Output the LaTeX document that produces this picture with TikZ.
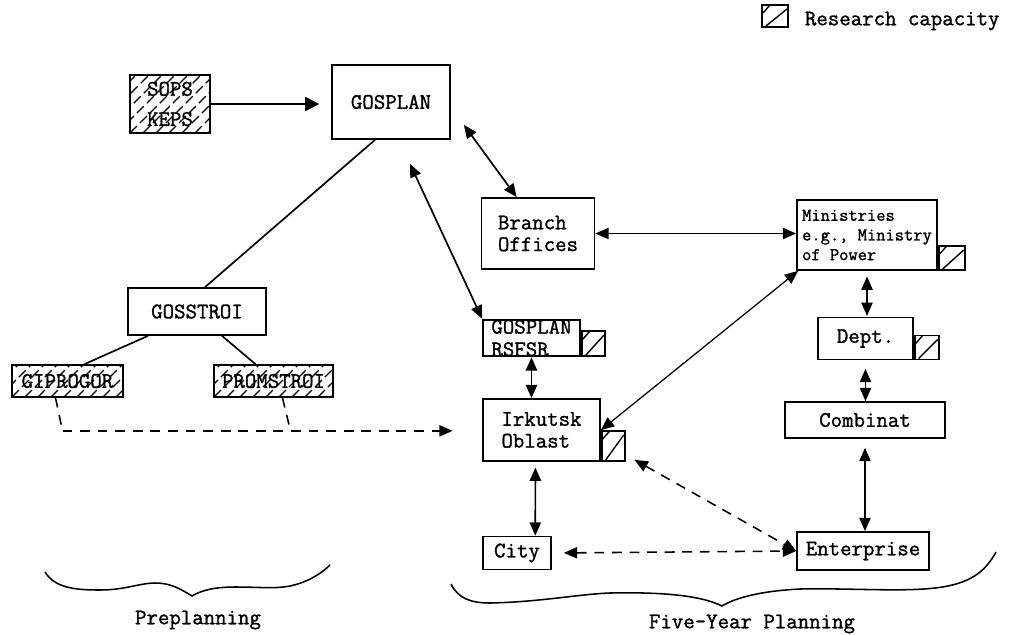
\documentclass[tikz,border=0pt]{standalone}
\usepackage{fontspec}
\usepackage{tikz}
\usetikzlibrary{arrows.meta,positioning}
\newfontfamily\typedfont{Latin Modern Mono}[FakeBold=1.3]
\tikzset{
  plainnode/.style={rectangle, draw=black, line width=1.2pt, fill=white, inner sep=1pt,
    font=\typedfont\fontsize{15.8}{15.5}\selectfont, align=left},
  hatchnode/.style={plainnode, fill=none, path picture={
      \foreach \k in {-12,...,12}
        \draw[line width=0.8pt, dash pattern=on 7pt off 3pt]
          ([shift={(\k*13,0)}]path picture bounding box.south west) -- ++(90,-90);}},
  capnode/.style={rectangle, draw=black, line width=1.2pt, inner sep=0pt, path picture={
      \draw[line width=1pt] ([shift={(4,-1)}]path picture bounding box.south west)
        -- ([shift={(-1,4)}]path picture bounding box.north east);
      \draw[line width=1pt] ([shift={(1,8)}]path picture bounding box.north west) -- ++(7,-8);}},
  plainedge/.style={draw=black, line width=1.2pt},
  oneedge/.style={-{Triangle[length=10pt,width=10pt]}, draw=black, line width=1.2pt},
  twowayedge/.style={{Triangle[length=9.5pt,width=8pt]}-{Triangle[length=9.5pt,width=8pt]},
    draw=black, line width=1.2pt},
  dashededge/.style={draw=black, line width=1.1pt, dash pattern=on 7pt off 5.5pt},
  twowaydashed/.style={twowayedge, line width=1.1pt, dash pattern=on 7pt off 5.5pt},
  braceline/.style={draw=black, line width=1.1pt},
  captionnode/.style={font=\typedfont\fontsize{15.8}{18}\selectfont},
}

\begin{document}
\begin{tikzpicture}[x=0.025cm, y=-0.025cm]
  \useasboundingbox (0,0) rectangle (1022,634);

  \node[capnode, minimum width=0.65cm, minimum height=0.55cm] (legendcap) at (775,16) {};
  \node[captionnode, anchor=west] (legend) at (800,21) {Research capacity};

  \node[hatchnode, minimum width=2cm, minimum height=1.45cm, align=center] (sops) at (170,104) {SOPS\\[6pt]KEPS};
  \node[plainnode, minimum width=2.95cm, minimum height=1.85cm] (gosplan) at (391,102) {GOSPLAN};
  \node[plainnode, minimum width=3.45cm, minimum height=1.175cm] (gosstroi) at (197,311.5) {GOSSTROI};
  \node[hatchnode, minimum width=2.775cm, minimum height=0.8cm] (giprogor) at (67.5,381) {GIPROGOR};
  \node[hatchnode, minimum width=2.975cm, minimum height=0.8cm] (promstroi) at (273.5,381) {PROMSTROI};

  \node[plainnode, minimum width=2.825cm, minimum height=1.775cm] (branch) at (538,233.5) {Branch\\Offices};
  \node[plainnode, minimum width=2.425cm, minimum height=0.825cm, inner ysep=0pt,
    font=\typedfont\fontsize{15.8}{16}\selectfont] (rsfsr) at (531.5,338) {GOSPLAN\\RSFSR};
  \node[capnode, minimum width=0.575cm, minimum height=0.625cm, anchor=south west] (rsfsrcap) at (rsfsr.south east) {};
  \node[plainnode, minimum width=2.925cm, minimum height=1.55cm] (irkutsk) at (541.5,430) {Irkutsk\\Oblast};
  \node[capnode, minimum width=0.575cm, minimum height=0.75cm, anchor=south west] (irkutskcap) at (irkutsk.south east) {};
  \node[plainnode, minimum width=1.7cm, minimum height=0.825cm] (city) at (517,553) {City};

  \node[plainnode, minimum width=3.5cm, minimum height=1.75cm,
    font=\typedfont\fontsize{12.8}{14}\selectfont] (ministries) at (867,235) {Ministries\\e.g., Ministry\\of Power};
  \node[capnode, minimum width=0.65cm, minimum height=0.6cm, anchor=south west] (ministriescap) at (ministries.south east) {};
  \node[plainnode, minimum width=2.375cm, minimum height=1.05cm] (dept) at (865.5,338.5) {Dept.};
  \node[capnode, minimum width=0.6cm, minimum height=0.6cm, anchor=south west] (deptcap) at (dept.south east) {};
  \node[plainnode, minimum width=4cm, minimum height=0.9cm] (combinat) at (865,420) {Combinat};
  \node[plainnode, minimum width=3.3cm, minimum height=0.95cm] (enterprise) at (863,551) {Enterprise};

  \draw[oneedge, shorten >=8.5pt] (sops.east) -- (sops.east -| gosplan.west);
  \draw[plainedge] ([shift={(-16,0)}]gosplan.south) -- ([shift={(8,0)}]gosstroi.north);
  \draw[plainedge] ([shift={(-49,0)}]gosstroi.south) -- ([shift={(17,0)}]giprogor.north);
  \draw[plainedge] ([shift={(25,0)}]gosstroi.south) -- ([shift={(-18,0)}]promstroi.north);
  \draw[dashededge] ([shift={(-12,0)}]giprogor.south) -- ++(7,33) coordinate (prebend);
  \draw[dashededge, -{Triangle[length=9.5pt,width=8pt]}, shorten >=21pt] (prebend) -- (prebend -| irkutsk.west);
  \draw[dashededge] ([shift={(9,0)}]promstroi.south) -- ++(8,33);

  \draw[twowayedge] ([shift={(13,-15)}]gosplan.south east) -- ([shift={(36,0)}]branch.north west);
  \draw[twowayedge] ([shift={(19,24)}]gosplan.south) -- (rsfsr.north west);
  \draw[twowayedge] (branch.east) -- (branch.east -| ministries.west);
  \draw[twowayedge, line width=0.9pt] ([shift={(2,0)}]ministries.south west) -- (irkutskcap.north west);
  \draw[twowayedge] (rsfsr.south) -- (rsfsr.south |- irkutsk.north);
  \draw[twowayedge, shorten <=4pt] ([xshift=-4.3pt]irkutsk.south) -- ([xshift=13pt]city.north);
  \draw[twowayedge, shorten <=4pt, shorten >=0.5pt] (ministries.south) -- (ministries.south |- dept.north);
  \draw[twowayedge, shorten <=6pt] (dept.south) -- (dept.south |- combinat.north);
  \draw[twowayedge, shorten <=6.4pt] (combinat.south) -- (combinat.south |- enterprise.north);
  \draw[twowaydashed] ([shift={(9,-2)}]irkutskcap.south east) -- (enterprise.west);
  \draw[twowaydashed, shorten <=8.5pt] (city.east) -- (enterprise.west);

  \draw[braceline] (45,572) .. controls (55,588) and (75,590) .. (100,590)
    .. controls (125,590) and (140,583) .. (155,583)
    .. controls (172,583) and (182,590) .. (192,596)
    .. controls (202,590) and (215,587) .. (235,587)
    .. controls (260,587) and (275,589) .. (290,586)
    .. controls (305,583) and (320,575) .. (330,565);
  \node[captionnode] (preplanning) at (198,620) {Preplanning};

  \draw[braceline] (451,584) .. controls (458,598) and (470,603) .. (490,603)
    .. controls (540,602) and (580,594) .. (610,593)
    .. controls (660,592) and (700,595) .. (722,606)
    .. controls (735,598) and (760,591) .. (800,589)
    .. controls (850,588) and (900,592) .. (935,588)
    .. controls (970,584) and (985,572) .. (996,552);
  \node[captionnode] (fiveyear) at (752,624) {Five-Year Planning};
\end{tikzpicture}
\end{document}
